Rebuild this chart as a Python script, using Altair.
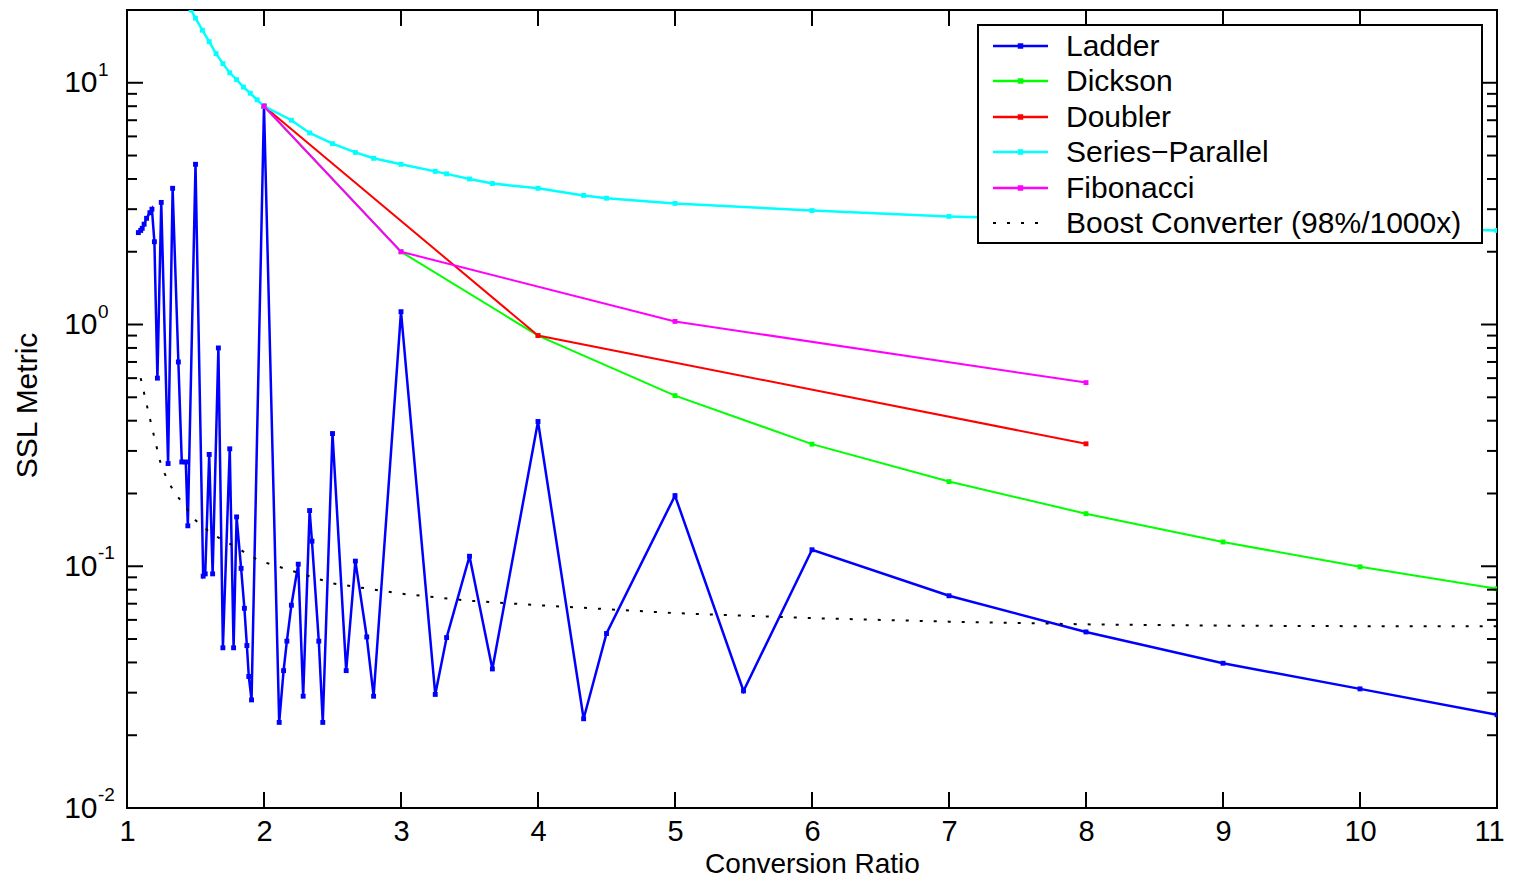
import altair as alt
import pandas as pd

FONT = "Liberation Sans"
W, H = 1370, 798

# ---------------- data ----------------
ladder_x = [1.083, 1.1, 1.111, 1.125, 1.143, 1.167, 1.182, 1.2, 1.222, 1.25, 1.3, 1.333,
            1.375, 1.4, 1.429, 1.444, 1.5, 1.556, 1.571, 1.6, 1.625, 1.667, 1.7, 1.75,
            1.778, 1.8, 1.833, 1.857, 1.875, 1.889, 1.909, 2.0, 2.111, 2.143, 2.167, 2.2,
            2.25, 2.286, 2.333, 2.35, 2.4, 2.429, 2.5, 2.6, 2.667, 2.75, 2.8, 3.0, 3.25,
            3.333, 3.5, 3.667, 4.0, 4.333, 4.5, 5.0, 5.5, 6.0, 7.0, 8.0, 9.0, 10.0, 11.0]
ladder_y = [2.4, 2.45, 2.5, 2.6, 2.75, 2.9, 3.0, 2.2, 0.6, 3.2, 0.266, 3.66,
            0.70, 0.27, 0.27, 0.147, 4.6, 0.091, 0.093, 0.29, 0.093, 0.80, 0.046, 0.306,
            0.046, 0.16, 0.098, 0.067, 0.047, 0.035, 0.028, 8.0, 0.0226, 0.037, 0.049, 0.069,
            0.102, 0.029, 0.17, 0.127, 0.049, 0.0226, 0.354, 0.037, 0.105, 0.051, 0.029, 1.13, 0.0295,
            0.0507, 0.110, 0.0376, 0.397, 0.0234, 0.0527, 0.196, 0.0305, 0.117, 0.0755, 0.0535,
            0.0397, 0.0311, 0.0243]

dickson_x = [2, 3, 4, 5, 6, 7, 8, 9, 10, 11]
dickson_y = [8.0, 2.0, 0.90, 0.508, 0.32, 0.224, 0.165, 0.126, 0.0995, 0.0807]

doubler_x = [2, 4, 8]
doubler_y = [8.0, 0.90, 0.321]

sp_x = [1.467, 1.5, 1.55, 1.6, 1.65, 1.7, 1.75, 1.8, 1.85, 1.9, 1.95, 2.0, 2.2, 2.333,
        2.5, 2.667, 2.8, 3.0, 3.25, 3.333, 3.5, 3.667, 4.0, 4.333, 4.5, 5.0, 6.0, 7.0, 11.0]
sp_y = [20.0, 18.5, 16.5, 14.8, 13.2, 12.0, 11.0, 10.3, 9.6, 9.05, 8.5, 8.0, 7.0, 6.2,
        5.6, 5.15, 4.87, 4.6, 4.3, 4.2, 4.0, 3.83, 3.66, 3.42, 3.33, 3.17, 2.96, 2.8, 2.45]

fib_x = [2, 3, 5, 8]
fib_y = [8.0, 2.0, 1.03, 0.575]

boost_x = [1.1, 1.15, 1.2, 1.25, 1.3, 1.35, 1.4, 1.5, 1.6, 1.7, 1.8, 1.9, 2.0, 2.5, 3.0,
           3.5, 4.0, 5.0, 6.0, 7.0, 8.0, 9.0, 10.0, 11.0]
boost_y = [0.6, 0.45, 0.34, 0.26, 0.225, 0.2, 0.185, 0.155, 0.139, 0.128, 0.12, 0.11, 0.104,
           0.085, 0.077, 0.072, 0.069, 0.064, 0.061, 0.059, 0.0575, 0.0568, 0.0565, 0.0565]

names = ["Ladder", "Dickson", "Doubler", "Series\u2212Parallel", "Fibonacci",
         "Boost Converter (98%/1000x)"]
colors = ["#0000ff", "#00ff00", "#ff0000", "#00ffff", "#ff00ff", "#000000"]

x_ticks = list(range(1, 12))
y_major = [0.01, 0.1, 1, 10]
y_exp = ["-2", "-1", "0", "1"]
y_minor = [k * 10.0 ** e for e in range(-2, 2) for k in range(2, 10) if k * 10.0 ** e < 20]

# ---------------- scales / axes ----------------
xscale = alt.Scale(domain=[1, 11], nice=False, zero=False)
yscale = alt.Scale(type="log", domain=[0.01, 20], nice=False)

xaxis = alt.Axis(values=x_ticks, title="Conversion Ratio", ticks=False, domain=False,
                 grid=False, labelFont=FONT, labelFontSize=29, labelColor="black",
                 labelPadding=9, labelFlush=False, labelOverlap=False,
                 labelOffset={"condition": {"test": "datum.value == 11", "value": -8},
                              "value": 0},
                 titleFont=FONT, titleFontSize=28, titleFontWeight="normal",
                 titleColor="black", titleY=64, titleBaseline="alphabetic")
yaxis = alt.Axis(values=y_major, labelExpr="'10'", title="SSL Metric", ticks=False,
                 domain=False, grid=False, labelFont=FONT, labelFontSize=30,
                 labelColor="black", labelPadding=30, labelFlush=False,
                 labelOverlap=False, titleFont=FONT, titleFontSize=30,
                 titleFontWeight="normal", titleColor="black", titleX=-100, titleY=395,
                 titleAngle=-90, titleBaseline="middle", titleAlign="center")

X = lambda f: alt.X(f, scale=xscale, axis=xaxis)
Y = lambda f: alt.Y(f, scale=yscale, axis=yaxis)


def series(xs, ys, color, width, dash=None, marker=True):
    df = pd.DataFrame({"x": xs, "y": ys})
    kw = dict(color=color, strokeWidth=width, clip=True)
    if dash:
        kw["strokeDash"] = dash
    if marker:
        kw["point"] = alt.OverlayMarkDef(shape="square", size=24, filled=True,
                                         color=color, clip=True)
    return alt.Chart(df).mark_line(**kw).encode(x=X("x:Q"), y=Y("y:Q"))


layers = [
    series(ladder_x, ladder_y, colors[0], 2.5),
    series(dickson_x, dickson_y, colors[1], 2),
    series(doubler_x, doubler_y, colors[2], 2),
    series(sp_x, sp_y, colors[3], 2.5),
    series(fib_x, fib_y, colors[4], 2),
    series(boost_x, boost_y, colors[5], 2, dash=[3, 11], marker=False),
]

# ---------------- inward ticks ----------------
ymaj = pd.DataFrame({"v": y_major, "e": y_exp})
ymin = pd.DataFrame({"v": y_minor})
xt = pd.DataFrame({"v": x_ticks[1:-1]})
rule = dict(color="black", strokeWidth=2)
layers += [
    alt.Chart(ymaj).mark_rule(**rule).encode(x=alt.value(0), x2=alt.value(16), y=Y("v:Q")),
    alt.Chart(ymaj).mark_rule(**rule).encode(x=alt.value(W), x2=alt.value(W - 16), y=Y("v:Q")),
    alt.Chart(ymin).mark_rule(**rule).encode(x=alt.value(0), x2=alt.value(10), y=Y("v:Q")),
    alt.Chart(ymin).mark_rule(**rule).encode(x=alt.value(W), x2=alt.value(W - 10), y=Y("v:Q")),
    alt.Chart(xt).mark_rule(**rule).encode(x=X("v:Q"), y=alt.value(H), y2=alt.value(H - 16)),
    alt.Chart(xt).mark_rule(**rule).encode(x=X("v:Q"), y=alt.value(0), y2=alt.value(16)),
    alt.Chart(ymaj).mark_text(align="left", baseline="middle", dy=-13, fontSize=19,
                              font=FONT, color="black").encode(
        x=alt.value(-29), y=Y("v:Q"), text="e:N"),
]

# ---------------- legend box ----------------
LX0, LX1, LY0, LY1 = 851, 1355, 15, 233
row_y = [36, 71, 107, 142, 178, 213]
one = pd.DataFrame({"a": [0]})
layers.append(alt.Chart(one).mark_rect(fill="white", stroke="black", strokeWidth=2).encode(
    x=alt.value(LX0), x2=alt.value(LX1), y=alt.value(LY0), y2=alt.value(LY1)))
for i, (nm, c) in enumerate(zip(names, colors)):
    ry = row_y[i]
    if i < 5:
        layers.append(alt.Chart(one).mark_rule(color=c, strokeWidth=2.5).encode(
            x=alt.value(866), x2=alt.value(921), y=alt.value(ry)))
        layers.append(alt.Chart(one).mark_point(shape="square", size=30, filled=True,
                                                color=c, opacity=1).encode(
            x=alt.value(893.5), y=alt.value(ry)))
    else:
        layers.append(alt.Chart(one).mark_rule(color=c, strokeWidth=2,
                                               strokeDash=[3, 11]).encode(
            x=alt.value(866), x2=alt.value(921), y=alt.value(ry)))
    layers.append(alt.Chart(pd.DataFrame({"t": [nm]})).mark_text(
        align="left", baseline="middle", fontSize=30, font=FONT, color="black").encode(
        x=alt.value(939), y=alt.value(ry + 1), text="t:N"))

chart = alt.layer(*layers).properties(
    width=W, height=H,
    autosize=alt.AutoSizeParams(type="none"),
    padding={"left": 119, "top": 2, "right": 8, "bottom": 69},
    background="white",
).configure_view(stroke="black", strokeWidth=2)

chart.save("out.html", embed_options={"renderer": "svg", "actions": False})
